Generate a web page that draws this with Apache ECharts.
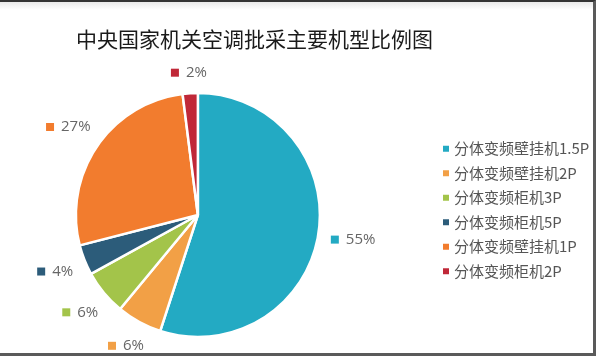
<!DOCTYPE html>
<html>
<head>
<meta charset="utf-8">
<script src="https://cdn.jsdelivr.net/npm/echarts@6/dist/echarts.min.js"></script>
<style>
html,body{margin:0;padding:0;background:#fff;}
#wrap{position:relative;width:596px;height:356px;overflow:hidden;}
#chart{position:absolute;left:0;top:0;width:596px;height:356px;}
#frame{position:absolute;left:0;top:0;border-top:2px solid #333;border-right:3px solid #5a5a5a;border-bottom:3px solid #5a5a5a;box-sizing:border-box;width:596px;height:356px;pointer-events:none;}
#band{position:absolute;left:0;top:2px;width:593px;height:8px;background:linear-gradient(#e9e9e9,#fff);pointer-events:none;}
</style>
</head>
<body>
<div id="wrap"><div id="band"></div><div id="chart"></div><div id="frame"></div></div>
<script>
var titleText = '中央国家机关空调批采主要机型比例图';
var categories = ['分体变频壁挂机1.5P', '分体变频壁挂机2P', '分体变频柜机3P', '分体变频柜机5P', '分体变频壁挂机1P', '分体变频柜机2P'];
var values = [55, 6, 6, 4, 27, 2];
var colors = ['#23aac3', '#f2a046', '#a3c44a', '#2c5c7a', '#f27c2e', '#c02838'];

var data = categories.map(function (name, i) {
  return {
    name: name,
    value: values[i],
    itemStyle: { color: colors[i] },
    label: {
      rich: {
        m: { width: 8, height: 8, backgroundColor: colors[i] },
        v: { fontSize: 15, color: '#666', fontFamily: 'Open Sans', padding: [0, 0, 0, 7] }
      }
    }
  };
});

var GAP = 12;
var chart = echarts.init(document.getElementById('chart'), null, { renderer: 'canvas' });
chart.setOption({
  animation: false,
  backgroundColor: 'transparent',
  color: colors,
  title: {
    text: titleText,
    left: 71,
    top: 24,
    textStyle: { fontFamily: 'Noto Sans CJK SC', fontSize: 21, fontWeight: 'normal', color: '#1a1a1a' }
  },
  legend: {
    orient: 'vertical',
    left: 436,
    top: 136,
    itemWidth: 8,
    itemHeight: 8,
    itemGap: 9,
    icon: 'rect',
    data: categories,
    textStyle: { fontFamily: 'Noto Sans CJK SC', fontSize: 15, color: '#555', lineHeight: 15.5, padding: [0, 0, 0, -1] }
  },
  series: [{
    type: 'pie',
    center: ['33.2%', '60.4%'],
    radius: 122,
    startAngle: 90,
    clockwise: true,
    avoidLabelOverlap: false,
    itemStyle: { borderColor: '#fff', borderWidth: 2.5 },
    label: {
      show: true,
      position: 'outside',
      formatter: function (p) { return '{m|}{v|' + p.value + '%}'; }
    },
    labelLine: { show: true, length: 10, length2: 0, lineStyle: { opacity: 0 } },
    labelLayout: function (p) {
      var pts = p.labelLinePoints;
      if (!pts) return {};
      var x0 = pts[0][0], y0 = pts[0][1];
      var dx = pts[1][0] - x0, dy = pts[1][1] - y0;
      var len = Math.sqrt(dx * dx + dy * dy) || 1;
      dx /= len; dy /= len;
      var w = p.labelRect.width, h = p.labelRect.height;
      var d = GAP + Math.abs(dx) * w / 2 + Math.abs(dy) * h / 2;
      return { x: x0 + dx * d, y: y0 + dy * d, align: 'center', verticalAlign: 'middle' };
    },
    data: data
  }]
});
</script>
</body>
</html>
